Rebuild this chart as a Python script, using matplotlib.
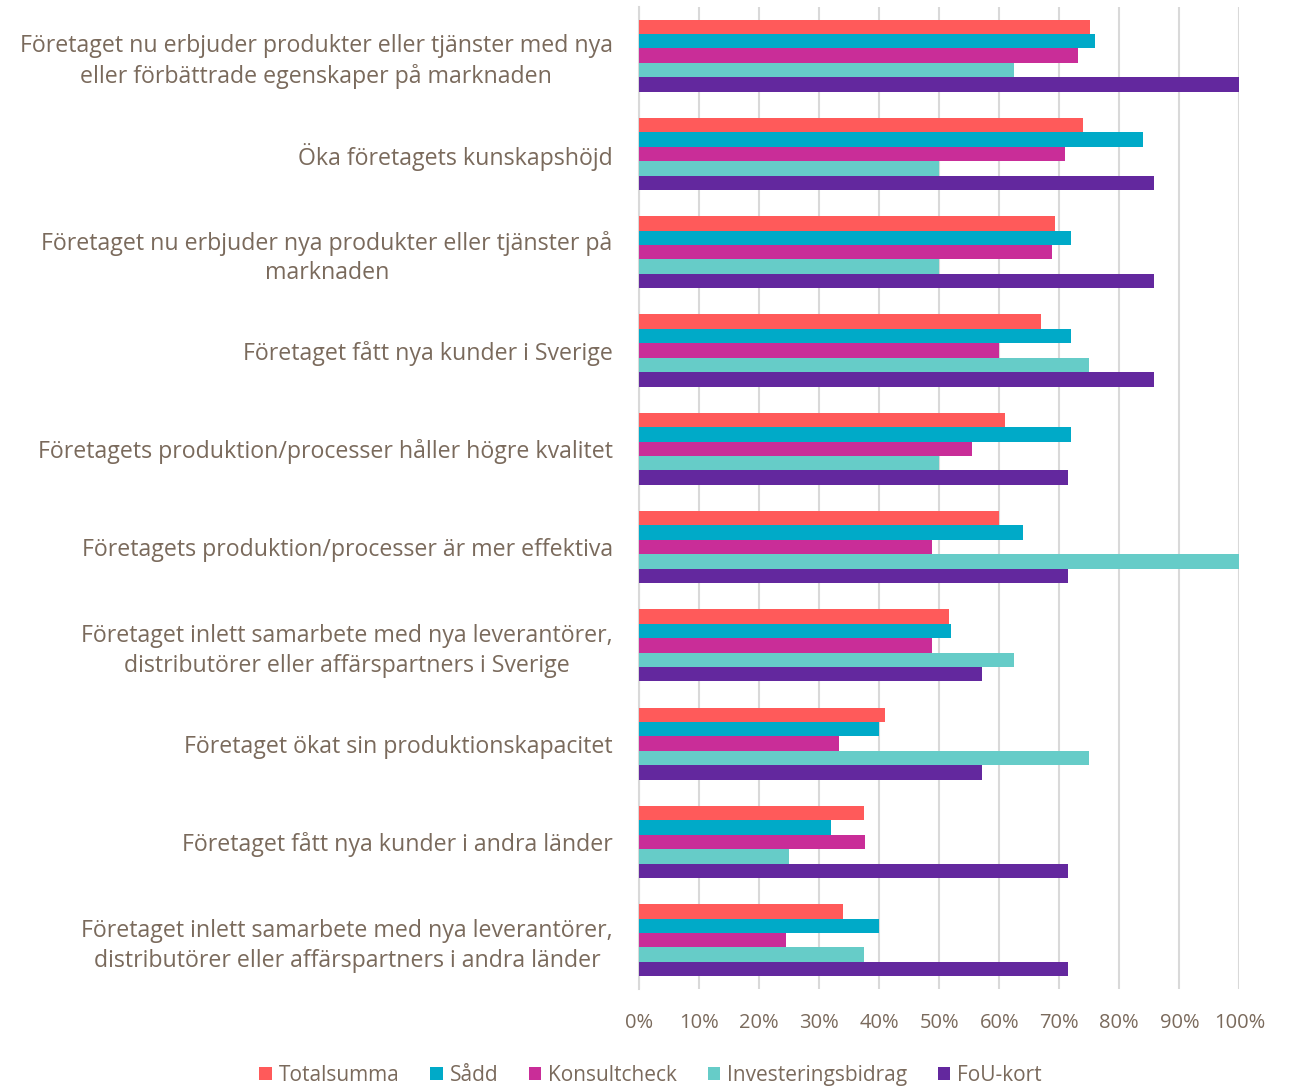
import numpy as np
import matplotlib
matplotlib.use("Agg")
import matplotlib.pyplot as plt

plt.rcParams['font.family'] = ['Open Sans', 'DejaVu Sans']

categories = [
    "Företaget nu erbjuder produkter eller tjänster med nya\neller förbättrade egenskaper på marknaden",
    "Öka företagets kunskapshöjd",
    "Företaget nu erbjuder nya produkter eller tjänster på\nmarknaden",
    "Företaget fått nya kunder i Sverige",
    "Företagets produktion/processer håller högre kvalitet",
    "Företagets produktion/processer är mer effektiva",
    "Företaget inlett samarbete med nya leverantörer,\ndistributörer eller affärspartners i Sverige",
    "Företaget ökat sin produktionskapacitet",
    "Företaget fått nya kunder i andra länder",
    "Företaget inlett samarbete med nya leverantörer,\ndistributörer eller affärspartners i andra länder",
]

series_names = ["Totalsumma", "Sådd", "Konsultcheck", "Investeringsbidrag", "FoU-kort"]

totalsumma = [75.2, 73.9, 69.3, 66.9, 61.0, 59.9, 51.6, 41.0, 37.5, 34.0]
sadd = [76.0, 84.0, 72.0, 72.0, 72.0, 64.0, 52.0, 40.0, 32.0, 40.0]
konsultcheck = [73.2, 71.0, 68.8, 60.0, 55.4, 48.8, 48.8, 33.3, 37.7, 24.4]
investeringsbidrag = [62.5, 50.0, 50.0, 75.0, 50.0, 100.0, 62.5, 75.0, 25.0, 37.5]
fou_kort = [100.0, 85.7, 85.7, 85.7, 71.4, 71.4, 57.1, 57.1, 71.4, 71.4]

colors = ["#FF5A5A", "#00AAC8", "#C92D98", "#66CCC8", "#63289E"]
text_color = "#7A6A5C"

values = [totalsumma, sadd, konsultcheck, investeringsbidrag, fou_kort]

fig = plt.figure(figsize=(12.91, 10.86), dpi=100)
ax = fig.add_axes([0.495, 0.089, 0.465, 0.905])

y = np.arange(len(categories))
h = 0.147
for i, (name, vals, c) in enumerate(zip(series_names, values, colors)):
    ax.barh(y + (i - 2) * h, vals, height=h, color=c, label=name, zorder=3)

ax.set_xlim(0, 100)
ax.set_ylim(len(categories) - 0.5, -0.5)
ax.set_xticks(np.arange(0, 101, 10))
ax.set_xticklabels([f"{v}%" for v in range(0, 101, 10)])
ax.set_yticks(y)
ax.set_yticklabels(categories)
for t in ax.get_yticklabels():
    t.set_multialignment('center')
    t.set_linespacing(1.3)

ax.grid(axis='x', color="#D9D9D9", linewidth=1.5, zorder=0)
for s in ["top", "right", "bottom"]:
    ax.spines[s].set_visible(False)
ax.spines["left"].set_color("#D9D9D9")
ax.spines["left"].set_linewidth(1.5)
ax.tick_params(axis='y', length=0, pad=19, labelsize=16.7, labelcolor=text_color)
ax.tick_params(axis='x', length=0, pad=17, labelsize=14.5, labelcolor=text_color)

fig.legend(loc='lower center', bbox_to_anchor=(0.504, -0.017), ncol=5, frameon=False,
           fontsize=15, labelcolor=text_color, handlelength=0.6, handleheight=0.6,
           handletextpad=0.35, columnspacing=1.45)

fig.savefig("out.png", dpi=100)
